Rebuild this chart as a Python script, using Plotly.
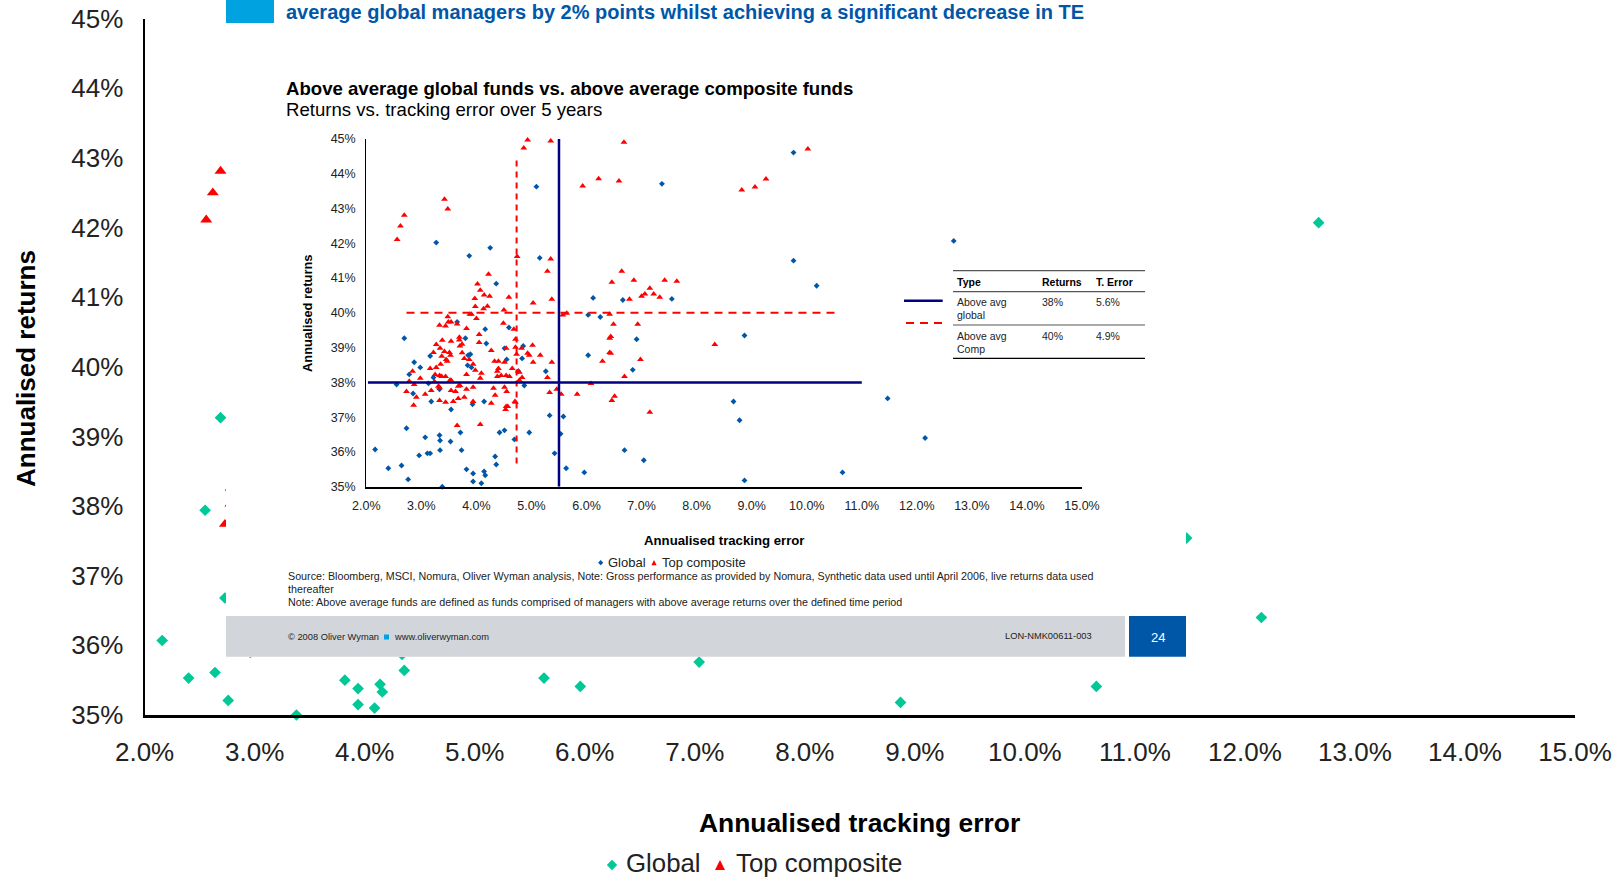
import plotly.graph_objects as go

W, H = 1620, 878

# tracking error (%) / annualised return (%) per fund
global_te = [5.09, 3.27, 3.87, 4.25, 5.15, 4.36, 6.12, 6.03, 6.25, 7.37, 9.76, 9.76, 10.18, 6.66, 7.55,
             3.65, 2.69, 3.80, 4.16, 4.18, 4.59, 4.51, 4.85, 4.83, 4.55, 3.16, 2.87, 2.98, 2.78, 3.22,
             2.55, 3.13, 3.33, 2.85, 3.18, 3.54, 3.93, 4.14, 4.87, 4.76, 5.26, 5.33, 5.58, 3.85, 3.89,
             3.84, 3.91, 2.73, 3.07, 3.33, 3.34, 3.53, 3.71, 4.42, 4.51, 4.96, 4.69, 5.53, 2.16, 2.96,
             3.11, 3.16, 3.34, 3.73, 4.34, 4.36, 5.42, 2.40, 2.64, 3.82, 3.94, 4.14, 4.16, 5.63, 5.96,
             2.76, 3.94, 4.09, 3.38, 6.03, 6.91, 6.84, 8.87, 8.67, 8.78, 11.47, 6.69, 7.04, 8.87, 10.65,
             12.67, 12.15]
global_ret = [43.63, 42.02, 41.64, 41.87, 41.58, 40.84, 40.43, 39.94, 39.88, 43.71, 44.61, 41.50, 40.78, 40.37, 40.40,
              39.74, 39.27, 39.27, 39.53, 39.12, 39.58, 38.98, 39.05, 38.69, 38.66, 38.76, 38.58, 38.43, 38.23, 38.14,
              37.94, 37.97, 37.80, 37.68, 37.45, 37.22, 37.37, 37.45, 37.91, 38.32, 38.32, 37.05, 37.02, 38.78, 38.81,
              38.49, 38.43, 36.68, 36.42, 36.48, 36.33, 36.30, 36.56, 36.56, 36.62, 36.56, 36.36, 36.52, 36.07, 35.90,
              35.96, 35.96, 36.05, 36.05, 35.87, 35.64, 35.96, 35.53, 35.61, 35.50, 35.38, 35.44, 35.33, 35.53, 35.41,
              35.21, 35.15, 35.10, 35.00, 38.78, 39.24, 38.36, 39.35, 37.45, 36.91, 37.54, 36.05, 35.76, 35.18, 35.41,
              42.07, 36.40]

comp_te = [4.93, 4.86, 5.35, 3.42, 3.48, 2.69, 2.62, 2.56, 4.74, 5.35, 5.29, 4.22, 4.02, 4.07, 3.97, 4.14, 4.24, 3.98,
           4.13, 4.20, 4.59, 4.50, 5.03, 5.37, 5.93, 6.22, 3.48, 3.88, 3.91, 4.00, 5.57, 5.64,
           6.68, 6.59, 8.82, 9.06, 9.26, 10.02, 6.64, 6.46, 6.86, 7.15, 7.06, 7.00, 7.22, 7.33, 6.78, 7.42, 7.64, 6.42,
           3.33, 3.44, 3.49, 3.54, 3.65, 3.82, 4.05, 4.49, 4.68, 4.71, 4.05, 3.69, 3.69, 3.74, 3.70, 3.54, 3.38, 3.27,
           3.22, 3.34, 3.42, 3.51, 3.53, 3.37, 3.45, 3.47, 3.35, 3.27, 3.16, 2.84, 2.98, 3.25, 3.33, 3.37, 3.44, 3.24,
           3.52, 3.54, 3.74, 3.78, 3.87, 3.94, 3.98, 3.82, 4.09, 4.07, 3.94, 3.82, 3.67, 3.70, 3.54, 3.62, 3.31, 3.33,
           3.18, 2.78, 2.87, 2.73, 2.91, 3.07, 2.86, 3.33, 3.44, 3.58, 3.67, 3.78, 3.94, 4.27, 4.34, 4.31, 4.51, 4.55,
           4.54, 4.57, 4.53, 4.70, 4.71, 4.27, 4.71, 4.54, 4.82, 5.02, 4.93, 4.96, 5.03, 5.16, 5.37, 5.29, 5.33, 5.46,
           5.54, 5.83, 6.08, 4.78, 4.76, 4.83, 4.78, 4.65, 4.73, 4.33, 4.40, 4.51, 4.40, 4.38, 4.38, 4.45, 4.54, 4.60,
           3.65, 4.07, 6.49, 6.93, 6.42, 6.44, 6.42, 6.44, 6.29, 6.98, 8.33, 6.69, 6.51, 6.46, 7.15]
comp_ret = [44.97, 44.74, 44.94, 43.27, 42.99, 42.81, 42.50, 42.11, 41.62, 41.55, 41.20, 41.11, 40.83, 40.65, 40.41, 40.51, 40.48, 40.18,
            40.12, 40.19, 40.45, 40.08, 40.28, 40.39, 43.65, 43.86, 39.89, 39.96, 39.96, 39.84, 39.94, 39.99,
            44.91, 43.79, 43.53, 43.62, 43.85, 44.71, 41.20, 40.88, 40.94, 40.71, 40.54, 40.48, 40.54, 40.45, 40.39, 40.94, 40.91, 39.96,
            39.64, 39.62, 39.74, 39.74, 39.68, 39.55, 39.38, 39.70, 39.53, 39.24, 39.15, 39.30, 39.22, 39.10, 39.05, 39.18, 39.21, 39.09,
            38.86, 38.98, 38.89, 38.86, 38.78, 38.75, 38.66, 38.61, 38.52, 38.43, 38.40, 38.32, 38.12, 38.23, 38.20, 38.17, 38.17, 38.02,
            38.06, 38.06, 38.85, 38.69, 38.66, 38.52, 38.35, 38.23, 38.26, 38.12, 37.86, 37.80, 37.89, 37.91, 37.77, 37.74, 37.89, 37.86,
            37.77, 38.03, 37.94, 37.74, 37.57, 37.66, 37.34, 37.48, 37.43, 37.45, 37.54, 37.57, 37.45, 37.40, 37.63, 37.83, 37.86, 37.74,
            37.31, 37.31, 37.22, 37.45, 37.43, 38.92, 39.01, 38.98, 38.98, 39.07, 38.84, 38.78, 38.58, 38.78, 38.58, 38.14, 37.71, 37.80,
            37.66, 37.66, 37.97, 38.29, 38.32, 38.14, 38.06, 38.40, 38.81, 38.61, 38.61, 38.58, 38.40, 38.32, 38.17, 38.20, 38.20, 38.17,
            36.76, 36.79, 39.67, 39.67, 39.27, 39.32, 38.86, 38.84, 38.61, 38.66, 39.09, 38.17, 37.60, 37.48, 37.14]

# average lines in the inset
avg_global_te = [5.5, 5.5]
avg_global_te_span = [35, 45]
avg_global_ret = [38, 38]
avg_global_ret_span = [2.03, 11.0]
avg_comp_te = [4.73, 4.73]
avg_comp_te_span = [35.67, 44.39]
avg_comp_ret = [40, 40]
avg_comp_ret_span = [2.73, 10.52]

x_ticks = [2, 3, 4, 5, 6, 7, 8, 9, 10, 11, 12, 13, 14, 15]
x_labels = ["2.0%", "3.0%", "4.0%", "5.0%", "6.0%", "7.0%", "8.0%", "9.0%", "10.0%", "11.0%", "12.0%", "13.0%",
            "14.0%", "15.0%"]
y_ticks = [35, 36, 37, 38, 39, 40, 41, 42, 43, 44, 45]
y_labels = ["35%", "36%", "37%", "38%", "39%", "40%", "41%", "42%", "43%", "44%", "45%"]

table_header = ["Type", "Returns", "T. Error"]
table_rows = [["Above avg", "global", "38%", "5.6%"], ["Above avg", "Comp", "40%", "4.9%"]]

FONT = "Liberation Sans"
TEAL = "#00C896"
RED = "#FF0000"
BLUE = "#0057A8"
NAVY = "#000080"


def px(x):
    return x / W


def py(y):
    return 1 - y / H


def label(text, x, y, size, color="#222222", bold=False, xanchor="left", angle=0):
    if bold:
        text = f"<b>{text}</b>"
    return dict(text=text, x=px(x), y=py(y), xref="paper", yref="paper", showarrow=False,
                xanchor=xanchor, yanchor="middle", textangle=angle,
                font=dict(family=FONT, size=size, color=color), borderpad=0, borderwidth=0)


def box(x0, y0, x1, y1, color):
    return dict(type="rect", xref="paper", yref="paper", layer="above", x0=px(x0), x1=px(x1),
                y0=py(y0), y1=py(y1), fillcolor=color, line_width=0)


def rule(x0, y0, x1, y1, color, width, dash="solid"):
    return dict(type="line", xref="paper", yref="paper", layer="above", x0=px(x0), x1=px(x1),
                y0=py(y0), y1=py(y1), line=dict(color=color, width=width, dash=dash))


def key(points, color):
    path = "M" + "L".join(f"{px(a)},{py(b)}" for a, b in points) + "Z"
    return dict(type="path", xref="paper", yref="paper", layer="above", path=path,
                fillcolor=color, line_width=0)


def diamond(cx, cy, r):
    return key([(cx - r, cy), (cx, cy - r), (cx + r, cy), (cx, cy + r)], TEAL if r > 3 else BLUE)


def triangle(cx, cy, r):
    return key([(cx - r, cy + r), (cx, cy - r), (cx + r, cy + r)], RED)


fig = go.Figure()

# full-size chart, mostly hidden behind the pasted slide
fig.add_trace(go.Scatter(x=global_te, y=global_ret, mode="markers", name="Global", cliponaxis=False,
                         marker=dict(symbol="diamond", size=9, color=TEAL)))
fig.add_trace(go.Scatter(x=comp_te, y=comp_ret, mode="markers", name="Top composite", cliponaxis=False,
                         marker=dict(symbol="triangle-up", size=10.5, color=RED)))

# slide chart
fig.add_trace(go.Scatter(x=global_te, y=global_ret, mode="markers", name="Global", cliponaxis=False,
                         xaxis="x3", yaxis="y3", marker=dict(symbol="diamond", size=4.5, color=BLUE)))
fig.add_trace(go.Scatter(x=comp_te, y=comp_ret, mode="markers", name="Top composite", cliponaxis=False,
                         xaxis="x3", yaxis="y3", marker=dict(symbol="triangle-up", size=6, color=RED)))
fig.add_trace(go.Scatter(x=avg_comp_te, y=avg_comp_te_span, mode="lines", xaxis="x3", yaxis="y3",
                         line=dict(color=RED, width=2, dash="6px,5px")))
fig.add_trace(go.Scatter(x=avg_comp_ret_span, y=avg_comp_ret, mode="lines", xaxis="x3", yaxis="y3",
                         line=dict(color=RED, width=2, dash="8px,6px")))
fig.add_trace(go.Scatter(x=avg_global_te, y=avg_global_te_span, mode="lines", xaxis="x3", yaxis="y3",
                         line=dict(color=NAVY, width=2.5)))
fig.add_trace(go.Scatter(x=avg_global_ret_span, y=avg_global_ret, mode="lines", xaxis="x3", yaxis="y3",
                         line=dict(color=NAVY, width=2.5)))

main_font = dict(family=FONT, size=26, color="#222222")
inset_font = dict(family=FONT, size=12.5, color="#222222")

annotations = [
    label("average global managers by 2% points whilst achieving a significant decrease in TE",
          286, 12, 20, BLUE, bold=True),
    label("Above average global funds vs. above average composite funds", 286, 88, 18.6, "#000000", bold=True),
    label("Returns vs. tracking error over 5 years", 286, 110, 18.6, "#000000"),
    label("Annualised returns", 26, 369, 26, "#000000", bold=True, xanchor="center", angle=-90),
    label("Annualised tracking error", 859, 823, 26.4, "#000000", bold=True, xanchor="center"),
    label("Global", 626, 863, 25.8),
    label("Top composite", 735.5, 863, 25.8),
    label("Annualised returns", 307, 314, 12.9, "#000000", bold=True, xanchor="center", angle=-90),
    label("Annualised tracking error", 724, 540, 13.2, "#000000", bold=True, xanchor="center"),
    label("Global", 607.5, 562.5, 13),
    label("Top composite", 661.5, 562.5, 13),
    label("Source: Bloomberg, MSCI, Nomura, Oliver Wyman analysis, Note: Gross performance as provided by "
          "Nomura, Synthetic data used until April 2006, live returns data used", 287.5, 576, 10.73),
    label("thereafter", 287.5, 589, 10.73),
    label("Note: Above average funds are defined as funds comprised of managers with above average returns "
          "over the defined time period", 287.5, 602, 10.75),
    label("© 2008 Oliver Wyman", 287.5, 637, 9.3),
    label("www.oliverwyman.com", 393.5, 637, 9.3),
    label("LON-NMK00611-003", 1092, 636, 9.3, xanchor="right"),
    label("24", 1157.5, 637.5, 13, "#FFFFFF", xanchor="center"),
]

# table next to the slide chart
col_x = [957, 1042, 1095.5]
for text, x in zip(table_header, col_x):
    annotations.append(label(text, x, 282, 10.5, "#000000", bold=True))
for row, y in zip(table_rows, [302, 336]):
    annotations.append(label(row[0], col_x[0], y, 10.5))
    annotations.append(label(row[1], col_x[0], y + 13, 10.5))
    annotations.append(label(row[2], col_x[1], y, 10.5))
    annotations.append(label(row[3], col_x[2], y, 10.5))

shapes = [
    # white sheet of the pasted slide, sits between the big chart and the inset
    dict(type="rect", xref="x2", yref="y2", layer="below", x0=0, x1=1, y0=0, y1=1,
         fillcolor="#FFFFFF", line_width=0),
    box(226, 0, 274, 23, "#00A3E0"),
    box(226, 616, 1125, 656.7, "#D2D5DA"),
    box(1129, 616, 1186, 656.7, BLUE),
    box(384, 634.5, 389, 639.5, "#00A3E0"),
    rule(953, 270.7, 1145, 270.7, "#555555", 1.2),
    rule(953, 291.7, 1145, 291.7, "#555555", 1.2),
    rule(953, 325, 1145, 325, "#555555", 1.2),
    rule(953, 358.3, 1145, 358.3, "#000000", 1.2),
    rule(904, 300.7, 942.7, 300.7, NAVY, 2.5),
    rule(906, 323, 942.7, 323, RED, 2, "8px,6px"),
    diamond(612, 865, 5.2),
    triangle(720, 865, 5),
    diamond(600.7, 562.7, 2.6),
    triangle(654, 562.7, 2.6),
]

fig.update_layout(
    width=W, height=H, margin=dict(l=0, r=0, t=0, b=0), autosize=False,
    paper_bgcolor="#FFFFFF", plot_bgcolor="#FFFFFF", showlegend=False, font=dict(family=FONT),
    xaxis=dict(domain=[px(144.6), px(1575)], range=[2, 15], tickmode="array", tickvals=x_ticks, ticktext=x_labels,
               showgrid=False, zeroline=False, showline=True, linecolor="#000000", linewidth=2.5, automargin=False,
               ticks="", tickfont=main_font, ticklabelstandoff=12, anchor="y"),
    yaxis=dict(domain=[py(715), py(18.6)], range=[35, 45], tickmode="array", tickvals=y_ticks, ticktext=y_labels,
               showgrid=False, zeroline=False, showline=True, linecolor="#000000", linewidth=2, automargin=False,
               ticks="", tickfont=main_font, ticklabelstandoff=14, anchor="x"),
    xaxis2=dict(domain=[px(226), px(1186)], range=[0, 1], visible=False, anchor="y2", automargin=False),
    yaxis2=dict(domain=[py(656.7), 1], range=[0, 1], visible=False, anchor="x2", automargin=False),
    xaxis3=dict(domain=[px(366.3), px(1082)], range=[2, 15], tickmode="array", tickvals=x_ticks, ticktext=x_labels,
                showgrid=False, zeroline=False, showline=True, linecolor="#000000", linewidth=1.5, automargin=False,
                ticks="", tickfont=inset_font, ticklabelstandoff=7, anchor="y3"),
    yaxis3=dict(domain=[py(486.7), py(139)], range=[35, 45], tickmode="array", tickvals=y_ticks, ticktext=y_labels,
                showgrid=False, zeroline=False, showline=True, linecolor="#000000", linewidth=1.2, automargin=False,
                ticks="", tickfont=inset_font, ticklabelstandoff=7, anchor="x3"),
    annotations=annotations,
    shapes=shapes,
)

fig.write_html("out.html", config={"displayModeBar": False},
               post_script="document.body.style.margin='0';document.body.style.overflow='hidden';")
